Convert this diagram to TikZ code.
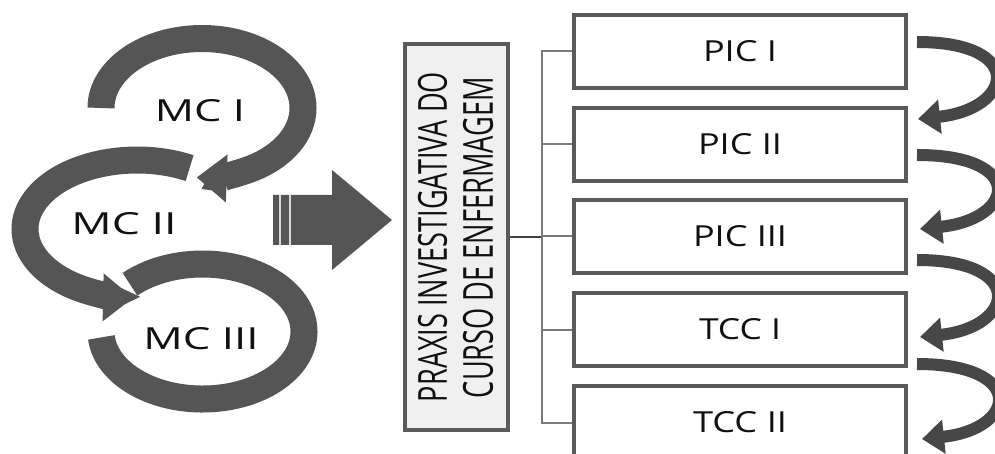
\documentclass[tikz,border=0pt]{standalone}
\usepackage{fontspec}
\setmainfont{Open Sans}
\usepackage{graphicx}
\usetikzlibrary{arrows.meta}
\definecolor{dk}{HTML}{555555}
\definecolor{dkr}{HTML}{474747}
\definecolor{bord}{HTML}{5A5A5A}
\definecolor{fillg}{HTML}{F0F0F0}
\definecolor{lin}{HTML}{7A7A7A}
\definecolor{stripe}{HTML}{D8D8D8}
\definecolor{txt}{HTML}{111111}
\newcommand{\fitt}[3]{\resizebox{#1pt}{#2pt}{#3}}
\begin{document}
\begin{tikzpicture}[x=1pt,y=-1pt,
  ring/.style={draw=dk, line width=27pt},
  ringarrow/.style={ring, -{Triangle[width=46pt,length=30pt]}},
  box/.style={draw=bord, line width=4pt, fill=white, minimum width=332pt, minimum height=73pt, inner sep=0pt, text=txt},
  label/.style={text=txt, inner sep=0pt},
  conn/.style={draw=lin, line width=2pt},
  rarrow/.style={draw=dkr, line width=12pt, -{Triangle[width=33pt,length=22pt]}}]
\clip (0,0) rectangle (995,454);
\fill[white] (0,0) rectangle (995,454);
% circular arrows
\draw[ring] (101.4,337.4) arc[start angle=175, end angle=-135.6, x radius=101.5, y radius=67.5];
\draw[ringarrow] (189.6,168.1) arc[start angle=-62, end angle=-268, x radius=112, y radius=69];
\draw[ringarrow] (101,108) arc[start angle=180, end angle=453, x radius=101, y radius=69.5];
\node[label] (mc1) at (200,111) {\fitt{90}{22}{MC I}};
\node[label] (mc2) at (124,224) {\fitt{105}{22}{MC II}};
\node[label] (mc3) at (201,339) {\fitt{115}{22}{MC III}};
% big arrow
\fill[dk] (273,195) -- (332,195) -- (332,170) -- (392,220) -- (332,270) -- (332,245) -- (273,245) -- cycle;
\draw[stripe, line width=2.5pt] (280,195) -- (280,245);
\draw[stripe, line width=2.5pt] (290,195) -- (290,245);
% central box
\node[draw=bord, line width=4pt, fill=fillg, minimum width=103pt, minimum height=386pt, inner sep=0pt] (px) at (456.5,237) {};
\node[label, rotate=90] (pxa) at (432.5,237) {\fitt{330}{29}{PRAXIS INVESTIGATIVA DO}};
\node[label, rotate=90] (pxb) at (478,237.5) {\fitt{321}{30}{CURSO DE ENFERMAGEM}};
% right boxes
\node[box] (p1) at (740,51.5) {\fitt{74}{21}{PIC I}};
\node[box] (p2) at (740,144.5) {\fitt{84}{21}{PIC II}};
\node[box] (p3) at (740,236.5) {\fitt{94}{21}{PIC III}};
\node[box] (t1) at (740,329.5) {\fitt{82}{21}{TCC I}};
\node[box] (t2) at (740,422.5) {\fitt{94}{21}{TCC II}};
% connectors
\coordinate (bus) at (542,237);
\draw[conn, draw=black!75] (px.east) -- (bus);
\foreach \b in {p1,p2,p3,t1,t2} \draw[conn] (\b.west) -| (bus);
% right curved arrows
\coordinate (r1s) at (917,42);  \coordinate (r1e) at (918,119);
\coordinate (r2s) at (917,155); \coordinate (r2e) at (920,229);
\coordinate (r3s) at (917,260); \coordinate (r3e) at (920,337);
\coordinate (r4s) at (917,364); \coordinate (r4e) at (922,439);
\foreach \s/\e in {r1s/r1e,r2s/r2e,r3s/r3e,r4s/r4e}
  \draw[rarrow] (\s) .. controls +(110,0) and +(95,-10) .. (\e);
\end{tikzpicture}
\end{document}
